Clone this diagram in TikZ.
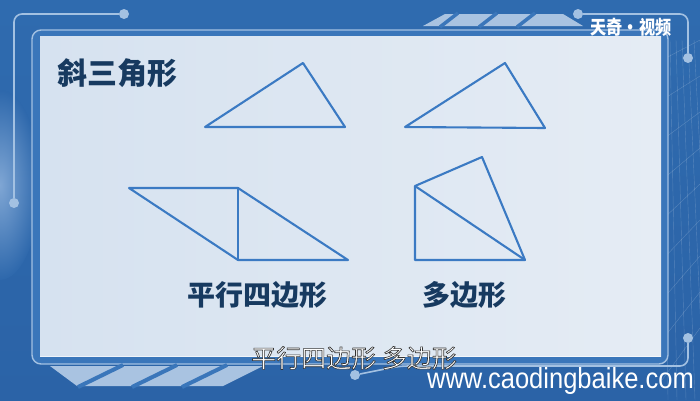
\documentclass[tikz,border=0pt]{standalone}
\usepackage{fontspec}
\newfontfamily\cjk{Noto Sans CJK SC}
\newfontfamily\cjknarrow{Noto Sans CJK SC}[FakeStretch=0.85]
\newfontfamily\cjkoutline{Noto Sans CJK SC}[FakeBold=2.5]
\newfontfamily\urlfont{Liberation Sans}[FakeStretch=0.88]
\newcommand\outlined[1]{\special{pdf:bcolor [1] [0.2]}#1\special{pdf:ecolor}}
\definecolor{bgtop}{HTML}{2F6BAF}
\definecolor{bgbottom}{HTML}{2B63A7}
\definecolor{glow}{HTML}{7FA6D4}
\definecolor{framefill}{HTML}{3A76BA}
\definecolor{lineblue}{HTML}{A3C1E2}
\definecolor{panelleft}{HTML}{D6E2F0}
\definecolor{panelright}{HTML}{E5ECF4}
\definecolor{stripe}{HTML}{A9C3E1}
\definecolor{shapeblue}{HTML}{3B7AC3}
\definecolor{navyblue}{HTML}{173A60}

\begin{document}
\begin{tikzpicture}[x=1pt,y=-1pt,line join=round,
    shape line/.style={draw=shapeblue,line width=2.1pt},
    title text/.style={font=\cjk\bfseries\fontsize{28}{30}\selectfont,text=navyblue,inner sep=0pt},
    deco line/.style={draw=lineblue,line width=1.6pt,rounded corners=8pt},
    deco dot/.style={circle,fill=lineblue,minimum size=10pt,inner sep=0pt}]
                \useasboundingbox (0,0) rectangle (700,400);
                \fill[top color=bgtop,bottom color=bgbottom] (0,0) rectangle (700,400);
                \shade[inner color=glow,outer color=bgtop!60!bgbottom] (0,185) ellipse (40 and 95);
                \foreach \i in {0,...,6}
                    \draw[white,opacity=0.2,line width=0.4pt] (664+6*\i,40) -- (668+9*\i,400);
                \foreach \i in {0,...,8}
                    \draw[white,opacity=0.2,line width=0.4pt] (662,60+40*\i) -- (700,40+36*\i);

                \fill[framefill,rounded corners=9pt] (32,30) rectangle (668,364);
                \draw[lineblue,line width=1.4pt,rounded corners=9pt] (32,30) rectangle (668,364);
                \fill[left color=panelleft,right color=panelright] (40,36) rectangle (661,356);
                \draw[white,opacity=0.6,line width=1pt] (40,356) -- (661,356);

                \fill[stripe] (423,26) -- (445,14) -- (563,14) -- (583,26) -- cycle;
                \foreach \t in {458,497,535}
                    \draw[framefill,line width=3.5pt] (\t,13) -- (\t-18,27);
                \fill[stripe] (50,366) -- (263,366) -- (223,386) -- (77,386) -- cycle;
                \foreach \t in {123,177,227}
                    \draw[framefill,line width=4pt] (\t,365) -- (\t-45,387);

                \node[deco dot] (d1) at (124,14) {};
                \node[deco dot] (d2) at (14,203) {};
                \node[deco dot] (d3) at (578,14) {};
                \node[deco dot] (d4) at (688,58) {};
                \node[deco dot] (d5) at (688,338) {};
                \node[deco dot] (d6) at (355,375) {};
                \coordinate (c1) at (400,366);
                \draw[deco line] (d1) -| (d2);
                \draw[deco line] (d3) -| (d4);
                \draw[deco line] (d5) |- (c1) -- (d6);

                \coordinate (a1) at (205,127);
                \coordinate (a2) at (303,63);
                \coordinate (a3) at (345,127);
                \coordinate (b1) at (405,127);
                \coordinate (b2) at (505,63);
                \coordinate (b3) at (545,128);
                \coordinate (p1) at (129,188);
                \coordinate (p2) at (238,188);
                \coordinate (p3) at (348,260);
                \coordinate (p4) at (238,260);
                \coordinate (q1) at (482,157);
                \coordinate (q2) at (415,186);
                \coordinate (q3) at (415,260);
                \coordinate (q4) at (525,260);

                \draw[shape line] (a1) -- (a2) -- (a3) -- cycle;
                \draw[shape line] (b1) -- (b2) -- (b3) -- cycle;
                \draw[shape line] (p1) -- (p2) -- (p3) -- (p4) -- cycle;
                \draw[shape line] (p2) -- (p4);
                \draw[shape line] (q1) -- (q2) -- (q3) -- (q4) -- cycle;
                \draw[shape line] (q2) -- (q4);

                \node[title text,anchor=west,font=\cjk\bfseries\fontsize{30}{32}\selectfont] (title) at (57,73) {斜三角形};
                \node[title text] (para) at (257,295) {平行四边形};
                \node[title text] (poly) at (464,295) {多边形};
                \node[font=\cjkoutline\fontsize{25}{27}\selectfont,text=white,inner sep=0pt] (sub) at (354,358) {\outlined{平行四边形 多边形}};
                \node[font=\urlfont\fontsize{29}{30}\selectfont,text=white,anchor=east,inner sep=0pt] (url) at (694,381) {www.caodingbaike.com};
                \node[font=\cjknarrow\bfseries\fontsize{19}{20}\selectfont,text=white,inner sep=0pt] (logo) at (631,27) {天奇·视频};
            \end{tikzpicture}
\end{document}
